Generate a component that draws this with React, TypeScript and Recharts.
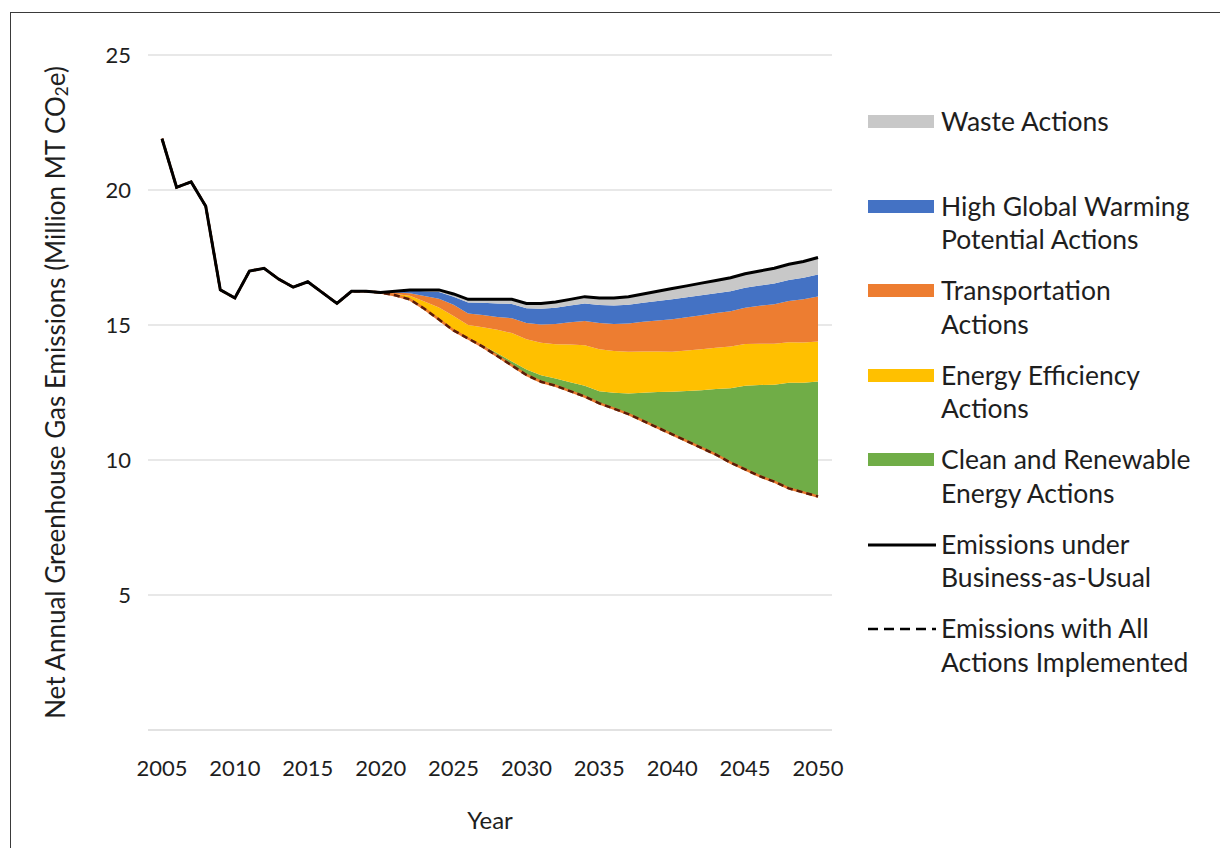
import React from 'react';
import { ComposedChart, Area, Line, XAxis, YAxis, CartesianGrid } from 'recharts';

const years = [
  2005, 2006, 2007, 2008, 2009, 2010, 2011, 2012, 2013, 2014, 2015, 2016, 2017, 2018, 2019,
  2020, 2021, 2022, 2023, 2024, 2025, 2026, 2027, 2028, 2029, 2030, 2031, 2032, 2033, 2034,
  2035, 2036, 2037, 2038, 2039, 2040, 2041, 2042, 2043, 2044, 2045, 2046, 2047, 2048, 2049, 2050,
];

// Emissions under Business-as-Usual (Million MT CO2e)
const businessAsUsual = [
  21.9, 20.1, 20.3, 19.4, 16.3, 16.0, 17.0, 17.1, 16.7, 16.4, 16.6, 16.2, 15.8, 16.25, 16.25,
  16.2, 16.25, 16.3, 16.3, 16.3, 16.15, 15.95, 15.95, 15.95, 15.95, 15.8, 15.8, 15.85, 15.95, 16.05,
  16.0, 16.0, 16.05, 16.15, 16.25, 16.35, 16.45, 16.55, 16.65, 16.75, 16.9, 17.0, 17.1, 17.25, 17.35, 17.5,
];

// Emissions with All Actions Implemented
const allActions = [
  21.9, 20.1, 20.3, 19.4, 16.3, 16.0, 17.0, 17.1, 16.7, 16.4, 16.6, 16.2, 15.8, 16.25, 16.25,
  16.2, 16.1, 15.95, 15.6, 15.2, 14.8, 14.5, 14.2, 13.85, 13.5, 13.15, 12.9, 12.75, 12.55, 12.35,
  12.1, 11.9, 11.7, 11.45, 11.2, 10.95, 10.7, 10.45, 10.2, 9.9, 9.65, 9.4, 9.2, 8.95, 8.8, 8.65,
];

// Reductions by action group (stacked on top of "all actions")
const cleanEnergy = [
  0, 0, 0, 0, 0, 0, 0, 0, 0, 0, 0, 0, 0, 0, 0,
  0, 0, 0, 0, 0, 0, 0, 0.05, 0.1, 0.15, 0.2, 0.24, 0.27, 0.33, 0.4,
  0.45, 0.59, 0.76, 1.04, 1.32, 1.58, 1.86, 2.13, 2.43, 2.76, 3.1, 3.38, 3.59, 3.91, 4.06, 4.26,
];
const energyEfficiency = [
  0, 0, 0, 0, 0, 0, 0, 0, 0, 0, 0, 0, 0, 0, 0,
  0, 0.05, 0.13, 0.27, 0.45, 0.53, 0.5, 0.67, 0.87, 1.05, 1.12, 1.2, 1.27, 1.4, 1.5,
  1.55, 1.55, 1.55, 1.53, 1.5, 1.48, 1.5, 1.52, 1.53, 1.54, 1.55, 1.53, 1.52, 1.5, 1.49, 1.48,
];
const transportation = [
  0, 0, 0, 0, 0, 0, 0, 0, 0, 0, 0, 0, 0, 0, 0,
  0, 0.05, 0.1, 0.2, 0.32, 0.42, 0.43, 0.45, 0.48, 0.55, 0.6, 0.68, 0.75, 0.82, 0.9,
  0.97, 1.0, 1.05, 1.1, 1.15, 1.2, 1.23, 1.26, 1.28, 1.31, 1.34, 1.4, 1.46, 1.53, 1.6, 1.67,
];
const highGwp = [
  0, 0, 0, 0, 0, 0, 0, 0, 0, 0, 0, 0, 0, 0, 0,
  0, 0.05, 0.1, 0.18, 0.25, 0.3, 0.4, 0.45, 0.5, 0.53, 0.55, 0.58, 0.6, 0.62, 0.65,
  0.67, 0.68, 0.69, 0.7, 0.72, 0.74, 0.74, 0.74, 0.74, 0.74, 0.74, 0.75, 0.77, 0.78, 0.8, 0.81,
];
const waste = [
  0, 0, 0, 0, 0, 0, 0, 0, 0, 0, 0, 0, 0, 0, 0,
  0, 0, 0.02, 0.05, 0.08, 0.1, 0.12, 0.13, 0.15, 0.17, 0.18, 0.2, 0.21, 0.23, 0.25,
  0.26, 0.28, 0.3, 0.33, 0.36, 0.4, 0.42, 0.45, 0.47, 0.5, 0.52, 0.54, 0.56, 0.58, 0.6, 0.63,
];

const xTicks = [2005, 2010, 2015, 2020, 2025, 2030, 2035, 2040, 2045, 2050];
const yTicks = [0, 5, 10, 15, 20, 25];

const legendItems = [
  { kind: 'box', color: '#c8c8c8', lines: ['Waste Actions'] },
  { kind: 'box', color: '#4472c4', lines: ['High Global Warming', 'Potential Actions'] },
  { kind: 'box', color: '#ed7d31', lines: ['Transportation', 'Actions'] },
  { kind: 'box', color: '#ffc000', lines: ['Energy Efficiency', 'Actions'] },
  { kind: 'box', color: '#70ad47', lines: ['Clean and Renewable', 'Energy Actions'] },
  { kind: 'line', color: '#000000', lines: ['Emissions under', 'Business-as-Usual'] },
  { kind: 'dash', color: '#000000', lines: ['Emissions with All', 'Actions Implemented'] },
];

const data = years.map((year, i) => ({
  year,
  bau: businessAsUsual[i],
  all: allActions[i],
  clean: cleanEnergy[i],
  eff: energyEfficiency[i],
  trans: transportation[i],
  hgwp: highGwp[i],
  waste: waste[i],
}));

const FONT = 'Lato, "Open Sans", sans-serif';
const TEXT = '#1e1e1e';

const LegendBox = () => (
  <div
    style={{
      position: 'absolute',
      left: 867,
      top: 105,
      width: 350,
      fontFamily: FONT,
      fontSize: 26.5,
      color: TEXT,
    }}
  >
    {legendItems.map((it, i) => (
      <div key={i} style={{ position: 'relative', height: 84.5 }}>
        <svg width={70} height={34} style={{ position: 'absolute', left: 0, top: 0 }}>
          {it.kind === 'box' && <rect x={1} y={10} width={66} height={13} fill={it.color} />}
          {it.kind === 'line' && <line x1={1} x2={69} y1={17} y2={17} stroke={it.color} strokeWidth={3} />}
          {it.kind === 'dash' && (
            <line x1={1} x2={69} y1={17} y2={17} stroke={it.color} strokeWidth={2.5} strokeDasharray="10 6" />
          )}
        </svg>
        <div style={{ position: 'absolute', left: 74, top: 0, lineHeight: '33.5px', whiteSpace: 'nowrap' }}>
          {it.lines.map((l, j) => (
            <div key={j}>{l}</div>
          ))}
        </div>
      </div>
    ))}
  </div>
);

const YLabel = (props: any) => {
  const vb = props.viewBox || { x: 0, y: 55, width: 148, height: 675 };
  const cx = vb.x + 58;
  const cy = vb.y + vb.height / 2;
  return (
    <text
      x={cx}
      y={cy}
      transform={`rotate(-90 ${cx} ${cy})`}
      textAnchor="middle"
      dominantBaseline="middle"
      fontFamily={FONT}
      fontSize={26}
      fill={TEXT}
    >
      Net Annual Greenhouse Gas Emissions (Million MT CO
      <tspan fontSize={17} dy={6}>2</tspan>
      <tspan dy={-6}>e)</tspan>
    </text>
  );
};

export default function App() {
  return (
    <div
      style={{
        position: 'fixed',
        left: 0,
        top: 0,
        width: 1220,
        height: 848,
        overflow: 'hidden',
        background: '#ffffff',
      }}
    >
      <div
        style={{
          position: 'absolute',
          left: 10,
          top: 12,
          width: 1240,
          height: 900,
          border: '1.5px solid #3a3a3a',
        }}
      />
      <div style={{ position: 'absolute', left: 0, top: 0 }}>
        <ComposedChart
          width={1220}
          height={848}
          data={data}
          margin={{ top: 55, right: 388, bottom: 58, left: 0 }}
        >
          <CartesianGrid horizontal={true} vertical={false} stroke="#e0e0e0" strokeWidth={1.5} />
          <XAxis
            dataKey="year"
            type="number"
            domain={[2005, 2050]}
            ticks={xTicks}
            padding={{ left: 14, right: 14 }}
            height={60}
            axisLine={{ stroke: '#e0e0e0', strokeWidth: 1.5 }}
            tickLine={false}
            tickSize={0}
            tickMargin={30}
            tick={{ fontFamily: FONT, fontSize: 22, fill: TEXT }}
            label={{ value: 'Year', position: 'bottom', offset: 22, fontFamily: FONT, fontSize: 24, fill: TEXT }}
          />
          <YAxis
            type="number"
            domain={[0, 25]}
            ticks={yTicks}
            width={148}
            axisLine={false}
            tickLine={false}
            tickSize={0}
            tickMargin={17}
            interval={0}
            tickFormatter={(v: number) => (v === 0 ? '' : String(v))}
            tick={{ fontFamily: FONT, fontSize: 22, fill: TEXT }}
            label={<YLabel />}
          />
          <Area
            type="linear"
            dataKey="all"
            stackId="s"
            stroke="none"
            fill="none"
            fillOpacity={0}
            isAnimationActive={false}
            legendType="none"
          />
          <Area type="linear" dataKey="clean" stackId="s" stroke="none" fill="#70ad47" fillOpacity={1} isAnimationActive={false} />
          <Area type="linear" dataKey="eff" stackId="s" stroke="none" fill="#ffc000" fillOpacity={1} isAnimationActive={false} />
          <Area type="linear" dataKey="trans" stackId="s" stroke="none" fill="#ed7d31" fillOpacity={1} isAnimationActive={false} />
          <Area type="linear" dataKey="hgwp" stackId="s" stroke="none" fill="#4472c4" fillOpacity={1} isAnimationActive={false} />
          <Area type="linear" dataKey="waste" stackId="s" stroke="none" fill="#c8c8c8" fillOpacity={1} isAnimationActive={false} />
          <Line type="linear" dataKey="all" stroke="#e8792f" strokeWidth={2.5} dot={false} isAnimationActive={false} />
          <Line
            type="linear"
            dataKey="all"
            stroke="#5a1c08"
            strokeWidth={2.5}
            strokeDasharray="6 4"
            dot={false}
            isAnimationActive={false}
          />
          <Line type="linear" dataKey="bau" stroke="#000000" strokeWidth={3} dot={false} isAnimationActive={false} />
        </ComposedChart>
      </div>
      <LegendBox />
    </div>
  );
}
